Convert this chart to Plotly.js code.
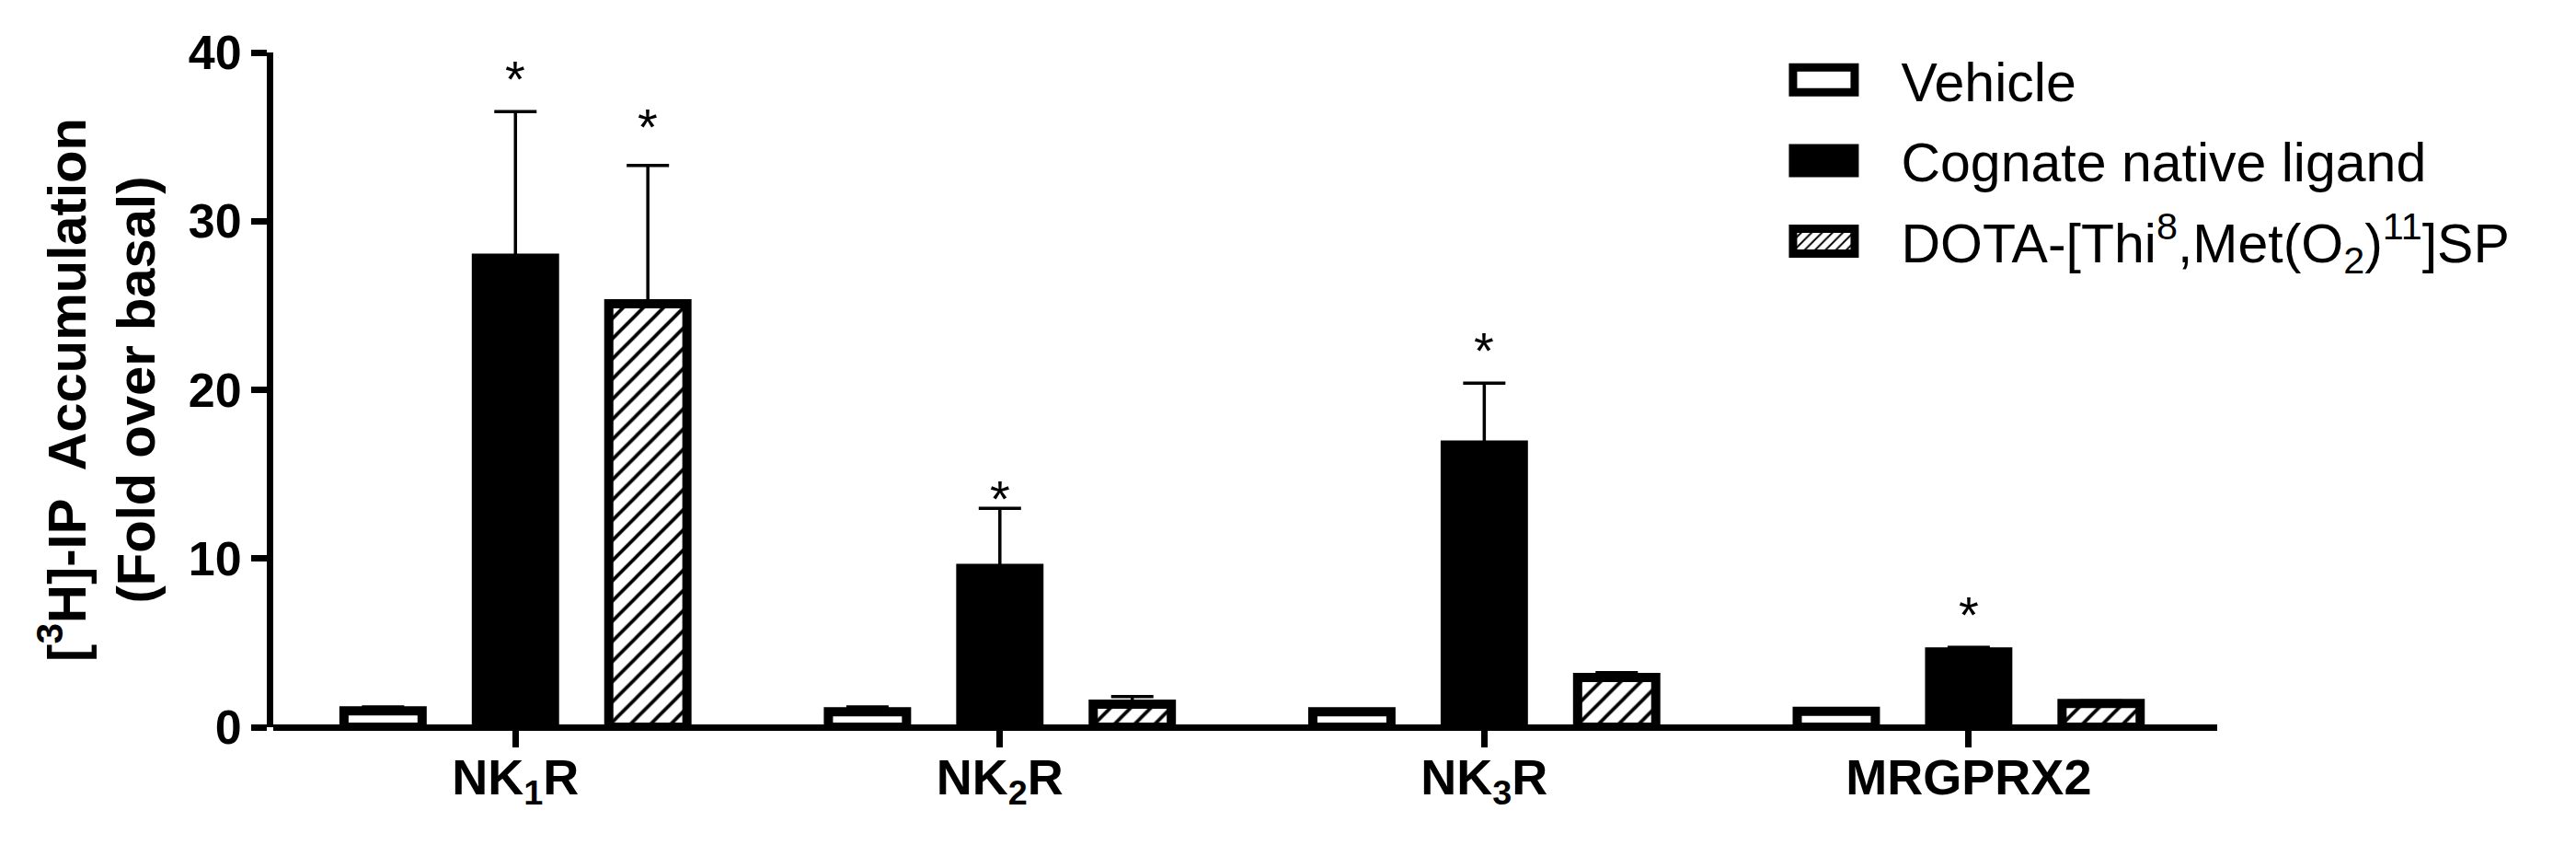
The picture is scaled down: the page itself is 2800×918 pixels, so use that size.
<!DOCTYPE html>
<html>
<head>
<meta charset="utf-8">
<script src="https://cdn.plot.ly/plotly-3.0.1.min.js"></script>
<style>
  html, body { margin: 0; padding: 0; background: #ffffff; }
  #chart { width: 2800px; height: 918px; }
</style>
</head>
<body>
<div id="chart"></div>
<script>
// ---------------- data ----------------
const receptors = ['NK1R', 'NK2R', 'NK3R', 'MRGPRX2'];
const receptorLabels = ['NK<sub>1</sub>R', 'NK<sub>2</sub>R', 'NK<sub>3</sub>R', 'MRGPRX2'];

const seriesNames = [
  'Vehicle',
  'Cognate native ligand',
  'DOTA-[Thi<sup>8</sup>,Met(O<sub>2</sub>)<sup>11</sup>]SP'
];

const vehicleMean = [0.97, 0.92, 0.91, 0.94];
const vehicleSem  = [0.23, 0.28, 0.13, 0.16];

const cognateMean = [27.8, 9.42, 16.73, 4.46];
const cognateSem  = [8.7, 3.55, 3.66, 0.27];

const dotaMean = [25.1, 1.36, 2.95, 1.40];
const dotaSem  = [8.2, 0.46, 0.29, 0.15];

// significance (*) flags
const vehicleSig = [false, false, false, false];
const cognateSig = [true, true, true, true];
const dotaSig    = [true, false, false, false];

const yTickVals = [0, 10, 20, 30, 40];

// ---------------- styling ----------------
const FONT = 'Liberation Sans, Arial, Helvetica, sans-serif';
const BLACK = '#000000';
const WHITE = '#ffffff';
const BORDER = 10;
const BARGAP = 0.18;
const BARGROUPGAP = 0.41;
// gap (px) between top of error bar and centre of the asterisk
const starGapPx = {
  cognate: [45, 20, 45, 45],
  dota: [52, 0, 0, 0],
  vehicle: [0, 0, 0, 0]
};

function zeros(n) { return new Array(n).fill(0); }

function makeTrace(name, mean, sem, marker, group) {
  return {
    type: 'bar',
    name: name,
    x: receptors,
    y: mean,
    legendgroup: group,
    marker: marker,
    error_y: {
      type: 'data',
      symmetric: false,
      array: sem,
      arrayminus: zeros(sem.length),
      color: BLACK,
      thickness: 3.5,
      width: 23
    },
    hoverinfo: 'skip'
  };
}

const traces = [
  makeTrace(seriesNames[0], vehicleMean, vehicleSem,
    { color: WHITE, line: { color: BLACK, width: BORDER } }, 'g1'),
  makeTrace(seriesNames[1], cognateMean, cognateSem,
    { color: BLACK, line: { color: BLACK, width: BORDER } }, 'g2'),
  makeTrace(seriesNames[2], dotaMean, dotaSem,
    { color: WHITE, line: { color: BLACK, width: BORDER },
      pattern: { shape: '/', fgcolor: BLACK, bgcolor: WHITE, size: 15.5, solidity: 0.24 } }, 'g3')
];

// asterisk annotations, positioned at the top of each error bar
const slot = (1 - BARGAP) / 3;
const seriesSets = [
  { mean: vehicleMean, sem: vehicleSem, sig: vehicleSig, gap: starGapPx.vehicle },
  { mean: cognateMean, sem: cognateSem, sig: cognateSig, gap: starGapPx.cognate },
  { mean: dotaMean, sem: dotaSem, sig: dotaSig, gap: starGapPx.dota }
];
const STAR_CENTER_IN_BOX = 43; // px from bottom of text box to glyph centre
const annotations = [];
seriesSets.forEach(function (s, si) {
  s.sig.forEach(function (flag, ri) {
    if (!flag) return;
    annotations.push({
      xref: 'x', yref: 'y',
      x: ri + (si - 1) * slot,
      y: s.mean[ri] + s.sem[ri],
      text: '*',
      showarrow: false,
      xanchor: 'center',
      yanchor: 'bottom',
      yshift: s.gap[ri] - STAR_CENTER_IN_BOX,
      font: { family: FONT, size: 56, color: BLACK }
    });
  });
});

const layout = {
  width: 2800,
  height: 918,
  margin: { l: 297, r: 390, t: 57, b: 128, pad: 0, autoexpand: false },
  paper_bgcolor: WHITE,
  plot_bgcolor: WHITE,
  barmode: 'group',
  bargap: BARGAP,
  bargroupgap: BARGROUPGAP,
  font: { family: FONT, color: BLACK },
  showlegend: true,
  legend: {
    xref: 'paper', yref: 'paper',
    x: 0.7579, y: 1.0207,
    xanchor: 'left', yanchor: 'top',
    font: { family: FONT, size: 59, color: BLACK },
    itemwidth: 158,
    tracegroupgap: 8,
    traceorder: 'grouped',
    bgcolor: 'rgba(0,0,0,0)',
    borderwidth: 0
  },
  xaxis: {
    type: 'category',
    range: [-0.5, 3.513],
    tickmode: 'array',
    tickvals: receptors,
    ticktext: receptorLabels,
    ticks: 'outside',
    ticklen: 21,
    tickwidth: 7,
    tickcolor: BLACK,
    ticklabelstandoff: -14,
    tickfont: { family: FONT, size: 54, color: BLACK, weight: 'bold' },
    showline: false,
    showgrid: false,
    zeroline: false,
    fixedrange: true
  },
  yaxis: {
    range: [0, 40],
    tickmode: 'array',
    tickvals: yTickVals,
    ticktext: yTickVals.map(String),
    ticks: 'outside',
    ticklen: 17,
    tickwidth: 7,
    tickcolor: BLACK,
    tickfont: { family: FONT, size: 52, color: BLACK, weight: 'bold' },
    showline: true,
    linewidth: 7,
    linecolor: BLACK,
    showgrid: false,
    zeroline: true,
    zerolinewidth: 7,
    zerolinecolor: BLACK,
    fixedrange: true,
    title: {
      text: '[<sup>3</sup>H]-IP&nbsp; Accumulation<br>(Fold over basal)',
      font: { family: FONT, size: 58, color: BLACK, weight: 'bold' },
      standoff: 20
    }
  },
  annotations: annotations
};

Plotly.newPlot('chart', traces, layout, { displayModeBar: false, staticPlot: true }).then(function () {
  // enlarge the legend swatches to the wide boxes of the original figure
  document.querySelectorAll('#chart .legend .legendpoints path').forEach(function (p) {
    p.setAttribute('d', 'M33.5,13.5H-33.5V-13.5H33.5Z');
    p.style.strokeWidth = '9px';
  });
});
</script>
</body>
</html>
